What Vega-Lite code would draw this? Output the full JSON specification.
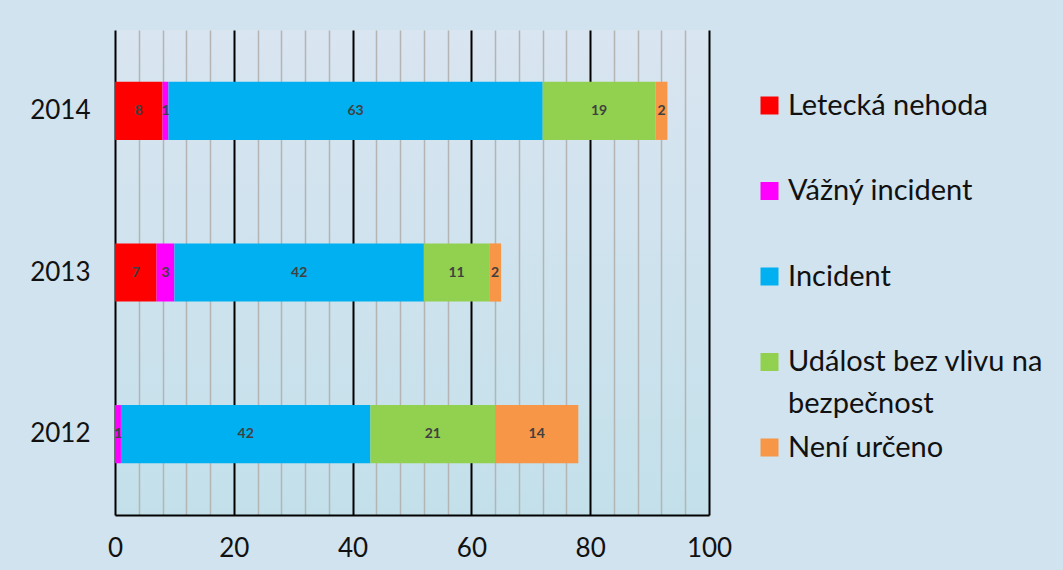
{
  "$schema": "https://vega.github.io/schema/vega-lite/v6.json",
  "width": 594,
  "height": 485,
  "autosize": "none",
  "padding": {"left": 115, "top": 30, "right": 354, "bottom": 55},
  "background": "#d0e3ee",
  "config": {
    "font": "Lato",
    "view": {"stroke": null, "fill": {"gradient": "linear", "x1": 0, "y1": 0, "x2": 0, "y2": 1, "stops": [{"offset": 0, "color": "#d9e5f1"}, {"offset": 1, "color": "#c3e0ea"}]}},
    "style": {"guide-label": {"lineHeight": 42}}
  },
  "data": {
    "values": [
      {"year": "2014", "cat": "Letecká nehoda", "v": 8},
      {"year": "2014", "cat": "Vážný incident", "v": 1},
      {"year": "2014", "cat": "Incident", "v": 63},
      {"year": "2014", "cat": "Událost bez vlivu na bezpečnost", "v": 19},
      {"year": "2014", "cat": "Není určeno", "v": 2},
      {"year": "2013", "cat": "Letecká nehoda", "v": 7},
      {"year": "2013", "cat": "Vážný incident", "v": 3},
      {"year": "2013", "cat": "Incident", "v": 42},
      {"year": "2013", "cat": "Událost bez vlivu na bezpečnost", "v": 11},
      {"year": "2013", "cat": "Není určeno", "v": 2},
      {"year": "2012", "cat": "Vážný incident", "v": 1},
      {"year": "2012", "cat": "Incident", "v": 42},
      {"year": "2012", "cat": "Událost bez vlivu na bezpečnost", "v": 21},
      {"year": "2012", "cat": "Není určeno", "v": 14}
    ]
  },
  "transform": [
    {"calculate": "indexof(['Letecká nehoda','Vážný incident','Incident','Událost bez vlivu na bezpečnost','Není určeno'], datum.cat)", "as": "o"},
    {"stack": "v", "groupby": ["year"], "sort": [{"field": "o", "order": "ascending"}], "as": ["x0", "x1"]},
    {"calculate": "(datum.x0 + datum.x1) / 2", "as": "mid"}
  ],
  "encoding": {
    "y": {
      "field": "year", "type": "nominal", "sort": ["2014", "2013", "2012"],
      "scale": {"paddingInner": 0.64, "paddingOuter": 0.32},
      "axis": {"title": null, "domain": false, "ticks": false, "labelPadding": 25, "labelFontSize": 26, "labelColor": "#111111", "grid": false}
    }
  },
  "layer": [
    {
      "mark": {"type": "bar"},
      "encoding": {
        "x": {
          "field": "x0", "type": "quantitative",
          "scale": {"domain": [0, 100], "nice": false},
          "axis": {
            "title": null,
            "values": [0, 4, 8, 12, 16, 20, 24, 28, 32, 36, 40, 44, 48, 52, 56, 60, 64, 68, 72, 76, 80, 84, 88, 92, 96, 100],
            "tickCount": 40,
            "grid": true,
            "gridColor": {"condition": {"test": "datum.value % 20 == 0", "value": "#000000"}, "value": "#b4b4b4"},
            "gridWidth": {"condition": {"test": "datum.value % 20 == 0", "value": 2}, "value": 1.5},
            "gridOpacity": 1,
            "ticks": false,
            "domain": true, "domainColor": "#000000", "domainWidth": 2,
            "labelExpr": "datum.value % 20 == 0 ? datum.label : ''",
            "labelFontSize": 26, "labelColor": "#111111", "labelPadding": 20,
            "labelFlush": false, "labelOverlap": false
          }
        },
        "x2": {"field": "x1"},
        "color": {
          "field": "cat", "type": "nominal",
          "scale": {
            "domain": ["Letecká nehoda", "Vážný incident", "Incident", "Událost bez vlivu na bezpečnost", "Není určeno"],
            "range": ["#ff0000", "#ff00ff", "#00b0f0", "#92d050", "#f79646"]
          },
          "legend": {
            "title": null, "orient": "none", "legendX": 640, "legendY": 61,
            "symbolType": "square", "symbolSize": 324, "symbolStrokeWidth": 0, "symbolOpacity": 1,
            "labelFontSize": 29, "labelColor": "#111111", "labelLimit": 400, "labelOffset": 4,
            "rowPadding": 13.5,
            "labelExpr": "datum.label == 'Událost bez vlivu na bezpečnost' ? ['Událost bez vlivu na', 'bezpečnost'] : [datum.label, '']"
          }
        }
      }
    },
    {
      "mark": {"type": "text", "fontSize": 14, "fontWeight": "bold", "color": "#404040"},
      "encoding": {
        "x": {"field": "mid", "type": "quantitative"},
        "text": {"field": "v", "type": "quantitative"}
      }
    }
  ]
}
